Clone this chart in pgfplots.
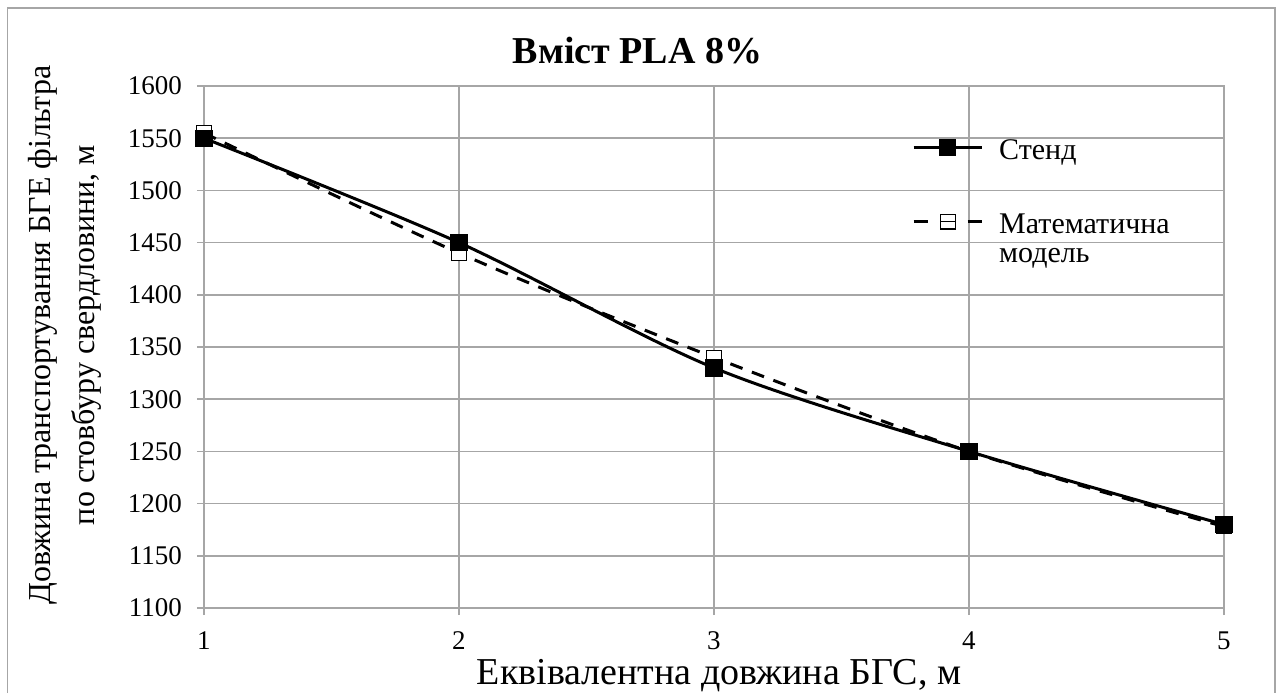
\documentclass[border=0pt]{standalone}
\usepackage{fontspec}
\setmainfont{Liberation Serif}
\usepackage{pgfplots}
\pgfplotsset{compat=1.18}

\definecolor{gridgray}{HTML}{A6A6A6}
\newcommand{\rowstrut}{\rule[-4pt]{0pt}{17pt}}

\begin{document}
\begin{tikzpicture}
  % picture size: 1276x693 px at 0.5pt per px
  \useasboundingbox (-102pt,-42.5pt) rectangle (536pt,304pt);
  \draw[gridgray, line width=0.75pt] (-98.25pt,-42.5pt) -- (-98.25pt,300pt) -- (535.5pt,300pt) -- (535.5pt,-42.5pt);
  \begin{axis}[
      at={(0pt,0pt)}, anchor=south west,
      scale only axis, width=510pt, height=261pt,
      xmin=1, xmax=5, ymin=1100, ymax=1600,
      xtick={1,2,3,4,5},
      ytick={1100,1150,...,1600},
      grid=major,
      grid style={gridgray, line width=0.75pt},
      axis line style={gridgray, line width=0.75pt},
      tick style={gridgray, line width=0.75pt},
      tick align=outside, major tick length=3.5pt,
      xtick pos=left, ytick pos=left,
      /pgf/number format/assume math mode=true,
      /pgf/number format/set thousands separator={},
      ticklabel style={font=\fontsize{13.5}{15}\selectfont, text=black},
      xticklabel style={yshift=-5pt},
      yticklabel style={xshift=-4pt},
      title={Вміст PLA 8\%},
      title style={font=\fontsize{19}{21}\selectfont\bfseries,
                   at={(axis description cs:0.425,1.0205)}, anchor=base},
      xlabel={Еквівалентна довжина БГС, м},
      xlabel style={font=\fontsize{19}{21}\selectfont,
                    at={(axis description cs:0.505,-0.1456)}, anchor=base},
      ylabel={Довжина транспортування БГЕ фільтра\\по стовбуру свердловини, м},
      ylabel style={font=\fontsize{16}{22}\selectfont, align=center,
                    at={(axis description cs:-0.1363,0.523)}, anchor=center},
      legend image code/.code={\draw[mark repeat=2,mark phase=2]
          plot coordinates {(0pt,0pt) (17pt,0pt) (34pt,0pt)};},
      legend style={font=\fontsize{15}{18}\selectfont, draw=none, fill=none,
                    at={(axis description cs:0.688,0.918)}, anchor=north west,
                    row sep=0pt, column sep=6pt,
                    nodes={inner ysep=0pt}},
      legend cell align=left,
    ]
    % Математична модель
    \addplot[black, line width=1.5pt, dash pattern=on 6.5pt off 5pt, smooth,
             mark=square*, mark size=3.6pt,
             mark options={solid, fill=white, line width=0.6pt}, forget plot]
      coordinates {(1,1555) (2,1440) (3,1340) (4,1250) (5,1178)};
    % Стенд
    \addplot[black, line width=1.5pt, smooth, mark=square*, mark size=3.6pt,
             mark options={solid}, forget plot]
      coordinates {(1,1550) (2,1450) (3,1330) (4,1250) (5,1180)};

    \addlegendimage{black, line width=1.5pt, mark=square*, mark size=3.6pt}
    \addlegendentry{\rowstrut Стенд}
    \addlegendimage{empty legend}
    \addlegendentry{\rule{0pt}{21pt}}
    \addlegendimage{legend image code/.code={
        \draw[black, line width=1.5pt] (0pt,0pt) -- (7pt,0pt) (27pt,0pt) -- (34pt,0pt);
        \draw[black, line width=0.6pt, fill=white] (13.25pt,-3.6pt) rectangle (20.75pt,3.6pt);
        \draw[black, line width=0.6pt] (13.25pt,0pt) -- (20.75pt,0pt);}}
    \addlegendentry{\rowstrut Математична}
    \addlegendimage{empty legend}
    \addlegendentry{\rowstrut модель}
  \end{axis}
\end{tikzpicture}
\end{document}
